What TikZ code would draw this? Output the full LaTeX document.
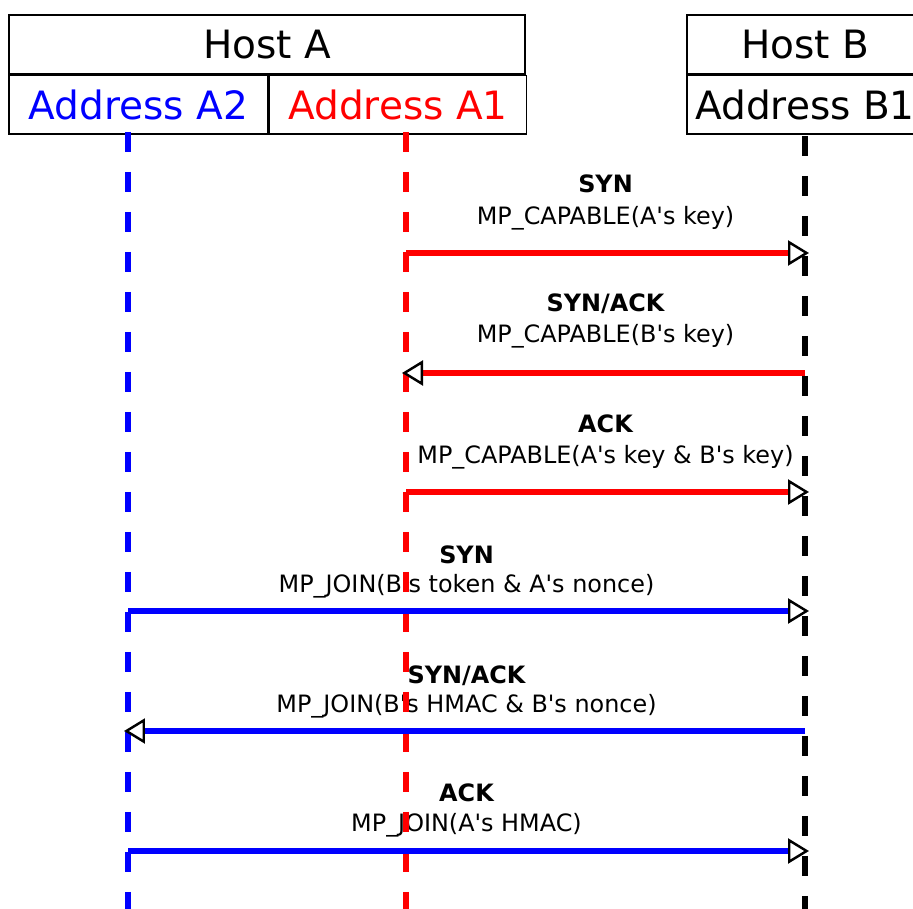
\documentclass[tikz,border=0pt]{standalone}
\usepackage{fontspec}
\setmainfont{DejaVu Sans}
\usetikzlibrary{arrows.meta, calc, positioning}

\newcommand{\q}{\textquotesingle}

\tikzset{
  hostbox/.style={draw, line width=0.9pt, inner sep=0pt, minimum height=1.17cm,
    font=\fontsize{22.2}{26}\selectfont},
  lifeline/.style={line width=3pt, dash pattern=on 0.4cm off 0.4cm},
  msgarrow/.style={line width=3.2pt, shorten >=-0.08cm,
    -{Triangle[color=black, fill=white, line width=1.4pt, length=0.42cm, width=0.5cm]}},
  msgtitle/.style={anchor=base, font=\fontsize{13.6}{16}\selectfont\bfseries},
  msgtext/.style={anchor=base, font=\fontsize{13.6}{16}\selectfont},
}

\begin{document}
\begin{tikzpicture}[x=0.02cm, y=-0.02cm]
\useasboundingbox (0,0) rectangle (913,909);
\clip (0,0) rectangle (913,909);

% hosts and addresses
\node[hostbox, minimum width=10.32cm] at (267,44.5) (hostA) {Host A};
\node[hostbox, minimum width=5.18cm, anchor=north west, text=blue] at (hostA.south west) (addrA2) {Address A2};
\node[hostbox, minimum width=5.14cm, anchor=north west, text=red] at (addrA2.north east) (addrA1) {Address A1};
\node[hostbox, minimum width=4.72cm] at (805,44.5) (hostB) {Host B};
\node[hostbox, minimum width=4.72cm, below=0pt of hostB] (addrB1) {Address B1};

% lifeline ends
\coordinate (A2top) at (128,132);
\coordinate (A1top) at (406,132);
\coordinate (B1top) at (805,136);
\coordinate (A2bot) at (128,909);
\coordinate (A1bot) at (406,909);
\coordinate (B1bot) at (805,909);

% message ends
\coordinate (A1m1) at (406,253); \coordinate (B1m1) at (805,253);
\coordinate (A1m2) at (406,373); \coordinate (B1m2) at (805,373);
\coordinate (A1m3) at (406,492); \coordinate (B1m3) at (805,492);
\coordinate (A2m4) at (128,611); \coordinate (B1m4) at (805,611);
\coordinate (A2m5) at (128,731); \coordinate (B1m5) at (805,731);
\coordinate (A2m6) at (128,851); \coordinate (B1m6) at (805,851);

% labels
\node[msgtitle] at ($(A1m1)!0.5!(B1m1)+(0,-60)$) (t1) {SYN};
\node[msgtext] at ($(A1m1)!0.5!(B1m1)+(0,-29)$) (l1) {MP\_CAPABLE(A\q s key)};
\node[msgtitle] at ($(A1m2)!0.5!(B1m2)+(0,-62)$) (t2) {SYN/ACK};
\node[msgtext] at ($(A1m2)!0.5!(B1m2)+(0,-31)$) (l2) {MP\_CAPABLE(B\q s key)};
\node[msgtitle] at ($(A1m3)!0.5!(B1m3)+(0,-60)$) (t3) {ACK};
\node[msgtext] at ($(A1m3)!0.5!(B1m3)+(0,-29)$) (l3) {MP\_CAPABLE(A\q s key \& B\q s key)};
\node[msgtitle] at ($(A2m4)!0.5!(B1m4)+(0,-48)$) (t4) {SYN};
\node[msgtext] at ($(A2m4)!0.5!(B1m4)+(0,-19)$) (l4) {MP\_JOIN(B\q s token \& A\q s nonce)};
\node[msgtitle] at ($(A2m5)!0.5!(B1m5)+(0,-48)$) (t5) {SYN/ACK};
\node[msgtext] at ($(A2m5)!0.5!(B1m5)+(0,-19)$) (l5) {MP\_JOIN(B\q s HMAC \& B\q s nonce)};
\node[msgtitle] at ($(A2m6)!0.5!(B1m6)+(0,-50)$) (t6) {ACK};
\node[msgtext] at ($(A2m6)!0.5!(B1m6)+(0,-20)$) (l6) {MP\_JOIN(A\q s HMAC)};

% lifelines
\draw[lifeline, blue] (A2top) -- (A2bot);
\draw[lifeline, red] (A1top) -- (A1bot);
\draw[lifeline, black] (B1top) -- (B1bot);

% messages
\draw[msgarrow, red] (A1m1) -- (B1m1);
\draw[msgarrow, red] (B1m2) -- (A1m2);
\draw[msgarrow, red] (A1m3) -- (B1m3);
\draw[msgarrow, blue] (A2m4) -- (B1m4);
\draw[msgarrow, blue] (B1m5) -- (A2m5);
\draw[msgarrow, blue] (A2m6) -- (B1m6);
\end{tikzpicture}
\end{document}
